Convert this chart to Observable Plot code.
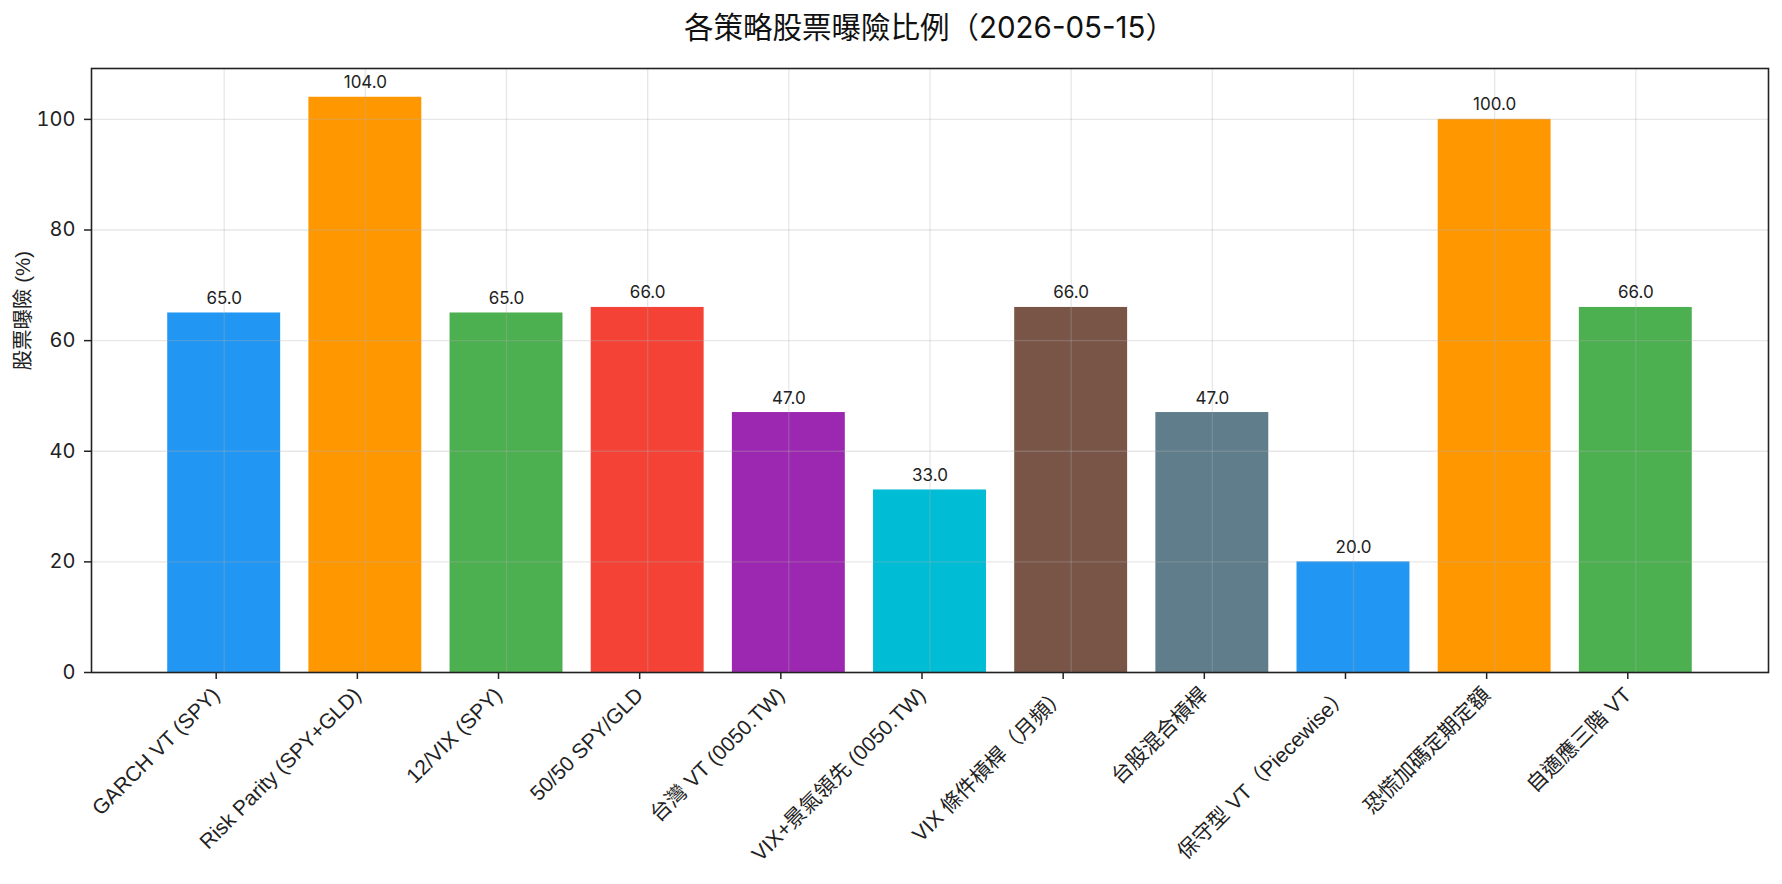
<!DOCTYPE html>
<html>
<head>
<meta charset="utf-8">
<script src="https://cdn.jsdelivr.net/npm/d3@7"></script>
<script src="https://cdn.jsdelivr.net/npm/@observablehq/plot@0.6"></script>
<style>
  html, body { margin: 0; padding: 0; background: #fff; }
  #title {
    box-sizing: border-box;
    width: 1782px; height: 50px;
    padding-left: 91px; padding-right: 14px;
    text-align: center;
    font-family: "Inter", "Noto Sans CJK TC", sans-serif;
    font-size: 29.5px; line-height: 54px; color: #111;
  }
</style>
</head>
<body>
<div id="title">各策略股票曝險比例（2026-05-15）</div>
<div id="chart"></div>
<script>
const categories = [
  "GARCH VT (SPY)",
  "Risk Parity (SPY+GLD)",
  "12/VIX (SPY)",
  "50/50 SPY/GLD",
  "台灣 VT (0050.TW)",
  "VIX+景氣領先 (0050.TW)",
  "VIX 條件槓桿（月頻）",
  "台股混合槓桿",
  "保守型 VT（Piecewise）",
  "恐慌加碼定期定額",
  "自適應三階 VT"
];
const values = [65, 104, 65, 66, 47, 33, 66, 47, 20, 100, 66];
const colors = ["#2196F3", "#FF9800", "#4CAF50", "#F44336", "#9C27B0", "#00BCD4",
                "#795548", "#607D8B", "#2196F3", "#FF9800", "#4CAF50"];
const yTicks = [0, 20, 40, 60, 80, 100];
const yLabel = "股票曝險 (%)";

const idx = categories.map((d, i) => i);
const data = categories.map((c, i) => ({i, name: c, value: values[i], color: colors[i]}));
const numFont = '"Inter", "Noto Sans CJK TC", sans-serif';
const labelFont = '"Liberation Sans", "Noto Sans CJK TC", sans-serif';

const chart = Plot.plot({
  width: 1782,
  height: 834,
  marginLeft: 91,
  marginRight: 14,
  marginTop: 18,
  marginBottom: 212,
  x: {type: "linear", domain: [-0.94, 10.94]},
  y: {domain: [0, 109.2]},
  color: {type: "identity"},
  style: {fontFamily: numFont, fontSize: "19px", color: "#222", background: "white", overflow: "visible"},
  marks: [
    Plot.rect(data, {x1: d => d.i - 0.4, x2: d => d.i + 0.4, y1: 0, y2: "value", fill: "color"}),
    Plot.ruleX(idx, {x: d => d, stroke: "#b0b0b0", strokeOpacity: 0.3, strokeWidth: 1.3}),
    Plot.ruleY(yTicks, {y: d => d, stroke: "#b0b0b0", strokeOpacity: 0.3, strokeWidth: 1.3}),
    Plot.text(data, {x: "i", y: "value", text: d => d.value.toFixed(1), dy: -9, lineAnchor: "bottom", fontSize: 17, fill: "#222"}),
    Plot.axisY({ticks: yTicks, tickSize: 7, tickPadding: 9, label: null, fontSize: 20, strokeWidth: 1.5}),
    Plot.axisX({ticks: idx, tickFormat: i => categories[i], tickRotate: -45, textAnchor: "end", lineAnchor: "middle",
                tickSize: 7, tickPadding: 12, dx: -8, label: null, fontSize: 21, fontFamily: labelFont, strokeWidth: 1.5}),
    Plot.text([yLabel], {frameAnchor: "left", dx: -68, rotate: -90, fontSize: 20.5, fontFamily: labelFont, fill: "#222"}),
    Plot.frame({stroke: "#222", strokeWidth: 1.6})
  ]
});
document.getElementById("chart").appendChild(chart);
</script>
</body>
</html>
